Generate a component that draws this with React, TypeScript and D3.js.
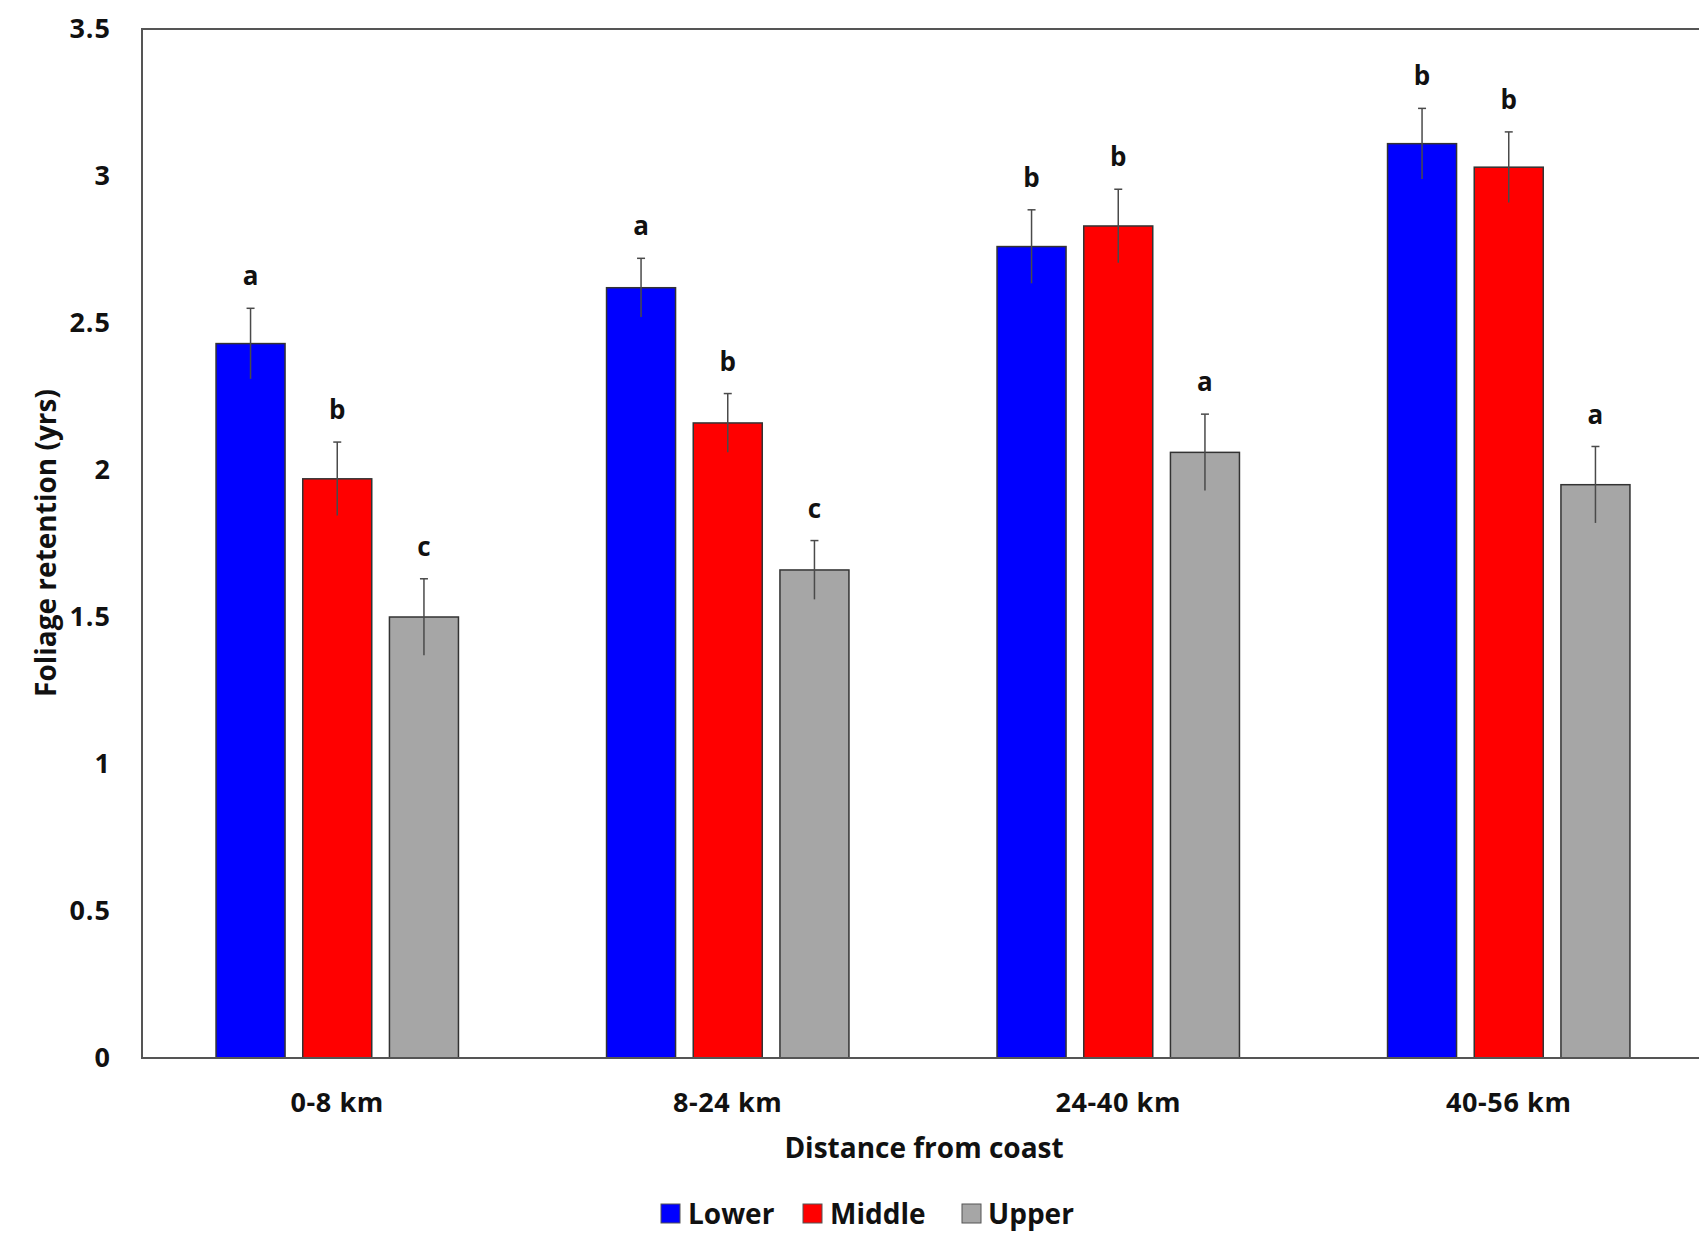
import React from "react";
import * as d3 from "d3";

// Foliage retention by canopy position and distance from the coast
const categories = ["0-8 km", "8-24 km", "24-40 km", "40-56 km"];
const seriesNames = ["Lower", "Middle", "Upper"];
const lowerValues = [2.43, 2.62, 2.76, 3.11];
const middleValues = [1.97, 2.16, 2.83, 3.03];
const upperValues = [1.5, 1.66, 2.06, 1.95];
const lowerErrors = [0.12, 0.1, 0.125, 0.12];
const middleErrors = [0.125, 0.1, 0.125, 0.12];
const upperErrors = [0.13, 0.1, 0.13, 0.13];
const lowerLetters = ["a", "a", "b", "b"];
const middleLetters = ["b", "b", "b", "b"];
const upperLetters = ["c", "c", "a", "a"];
const yTicks = [0, 0.5, 1, 1.5, 2, 2.5, 3, 3.5];

const seriesColors = ["#0000ff", "#ff0000", "#a6a6a6"];

const W = 1699;
const H = 1246;
const left = 142;
const right = 1704;
const top = 29;
const bottom = 1058;
const FONT = "'Open Sans', 'DejaVu Sans', sans-serif";

export default function App() {
  const x = d3.scaleBand<string>().domain(categories).range([left, right]).paddingInner(0).paddingOuter(0);
  const xs = d3
    .scaleBand<string>()
    .domain(seriesNames)
    .range([0, x.bandwidth()])
    .paddingInner(0.204)
    .paddingOuter(0.854);
  const y = d3.scaleLinear().domain([0, 3.5]).range([bottom, top]);

  const series = [
    { name: "Lower", values: lowerValues, errors: lowerErrors, letters: lowerLetters },
    { name: "Middle", values: middleValues, errors: middleErrors, letters: middleLetters },
    { name: "Upper", values: upperValues, errors: upperErrors, letters: upperLetters },
  ];

  const legendItems = [
    { name: "Lower", sx: 661, tx: 688 },
    { name: "Middle", sx: 803, tx: 830 },
    { name: "Upper", sx: 962, tx: 988 },
  ];

  return (
    <svg
      width={W}
      height={H}
      style={{ position: "absolute", left: 0, top: 0, background: "#ffffff" }}
      fontFamily={FONT}
    >
      <rect x={0} y={0} width={W} height={H} fill="#ffffff" />

      {/* bars */}
      {series.map((s, si) =>
        categories.map((c, ci) => {
          const bx = (x(c) as number) + (xs(s.name) as number);
          const v = s.values[ci];
          return (
            <rect
              key={`${s.name}-${c}`}
              x={bx}
              y={y(v)}
              width={xs.bandwidth()}
              height={y(0) - y(v)}
              fill={seriesColors[si]}
              stroke="#333"
              strokeWidth={1.5}
            />
          );
        })
      )}

      {/* error bars and significance letters */}
      {series.map((s) =>
        categories.map((c, ci) => {
          const cx = (x(c) as number) + (xs(s.name) as number) + xs.bandwidth() / 2;
          const v = s.values[ci];
          const e = s.errors[ci];
          const yTop = y(v + e);
          const yBot = y(v - e);
          return (
            <g key={`err-${s.name}-${c}`}>
              <line x1={cx} x2={cx} y1={yTop} y2={yBot} stroke="#4a4a4a" strokeWidth={1.5} />
              <line x1={cx - 4} x2={cx + 4} y1={yTop} y2={yTop} stroke="#4a4a4a" strokeWidth={1.5} />
              <text
                x={cx}
                y={yTop - 32}
                dy="0.35em"
                textAnchor="middle"
                fontSize={26}
                fontWeight={700}
                fill="#111"
              >
                {s.letters[ci]}
              </text>
            </g>
          );
        })
      )}

      {/* plot frame */}
      <rect
        x={left}
        y={top}
        width={right - left}
        height={bottom - top}
        fill="none"
        stroke="#555"
        strokeWidth={2}
      />

      {/* y tick labels */}
      {yTicks.map((t) => (
        <text
          key={`yt-${t}`}
          x={111}
          y={y(t)}
          dy="0.35em"
          textAnchor="end"
          fontSize={27}
          fontWeight={700}
          letterSpacing={1}
          fill="#111"
        >
          {String(t)}
        </text>
      ))}

      {/* x category labels */}
      {categories.map((c) => (
        <text
          key={`xl-${c}`}
          x={(x(c) as number) + x.bandwidth() / 2}
          y={1103}
          dy="0.35em"
          textAnchor="middle"
          fontSize={27}
          fontWeight={700}
          letterSpacing={0.6}
          fill="#111"
        >
          {c}
        </text>
      ))}

      {/* axis titles */}
      <text x={924} y={1148} dy="0.35em" textAnchor="middle" fontSize={28} fontWeight={700} fill="#111">
        Distance from coast
      </text>
      <text
        transform={`translate(46,543) rotate(-90)`}
        dy="0.35em"
        textAnchor="middle"
        fontSize={28}
        fontWeight={700}
        fill="#111"
      >
        Foliage retention (yrs)
      </text>

      {/* legend */}
      {legendItems.map((l, i) => (
        <g key={`lg-${l.name}`}>
          <rect x={l.sx} y={1204} width={19} height={19} fill={seriesColors[i]} stroke="#555" strokeWidth={1} />
          <text x={l.tx} y={1214} dy="0.35em" fontSize={28} fontWeight={700} fill="#111">
            {l.name}
          </text>
        </g>
      ))}
    </svg>
  );
}
